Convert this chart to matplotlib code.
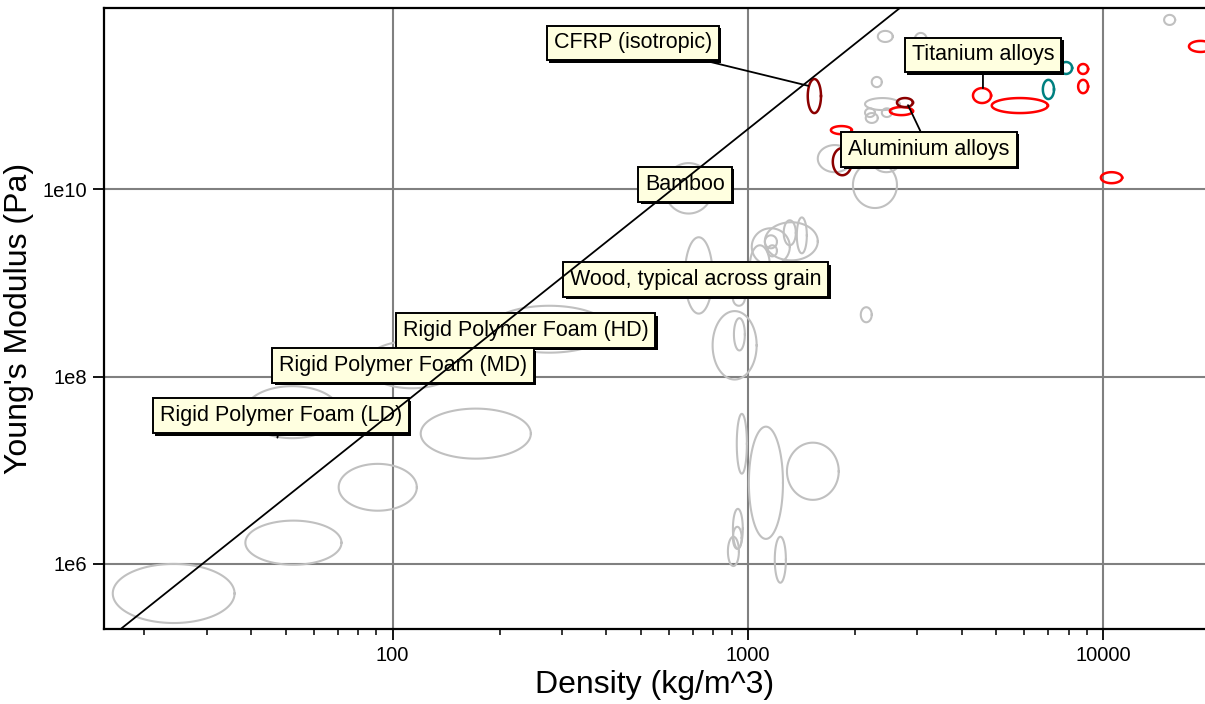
import numpy as np
import matplotlib
matplotlib.use('Agg')
import matplotlib.pyplot as plt
import matplotlib.patheffects as pe
from matplotlib.ticker import FixedLocator, FixedFormatter, LogLocator, NullFormatter, NullLocator

plt.rcParams['font.family'] = ['Liberation Sans', 'DejaVu Sans']

# material bubbles: density range (kg/m^3), Young's modulus range (Pa)
rho_lo = [16.3, 38.5, 70.5, 38.3, 120, 83.4, 187, 583, 665, 908, 796, 914, 2080,
          1117, 1026, 1374, 1262, 1117, 1137, 1014,
          931, 1007, 1289, 908, 908, 879, 1191,
          2323, 2951, 2233, 2138, 2138, 2148, 2384, 1574, 1977, 2249, 14860,
          1714, 2512, 4305, 4862, 8511, 8511, 9864, 17460,
          1475, 2630, 1735,
          7568, 6771]
rho_hi = [35.9, 71.8, 117, 71.0, 245, 154, 408, 796, 796, 981, 1059, 981, 2233,
          1574, 1313, 1466, 1365, 1208, 1208, 1153,
          994, 1256, 1803, 968, 961, 944, 1280,
          2559, 3190, 2384, 2680, 2280, 2323, 2544, 1963, 2630, 2680, 15960,
          1963, 2917, 4840, 6997, 9077, 9077, 11320, 20280,
          1607, 2917, 1963,
          8185, 7278]
E_lo = [2.34e5, 9.8e5, 3.7e6, 2.2e7, 1.33e7, 7.5e7, 1.8e8, 5.5e9, 4.7e8, 5.7e8, 9.3e7, 1.9e8, 3.8e8,
        1.74e9, 1.54e9, 2.07e9, 2.52e9, 2.34e9, 1.92e9, 9.4e8,
        9.2e6, 1.85e6, 4.83e6, 1.45e6, 1.45e6, 9.5e5, 6.3e5,
        3.73e11, 3.38e11, 1.23e11, 7.0e10, 5.9e10, 5.1e10, 5.9e10, 1.52e10, 6.3e9, 1.52e10, 5.67e11,
        3.87e10, 6.18e10, 8.32e10, 6.5e10, 1.70e11, 1.06e11, 1.16e10, 2.92e11,
        6.5e10, 7.53e10, 1.41e10,
        1.70e11, 9.18e10]
E_hi = [1.0e6, 2.9e6, 1.17e7, 7.9e7, 4.55e7, 2.4e8, 5.7e8, 1.9e10, 3.07e9, 8.3e8, 5.0e8, 4.2e8, 5.5e8,
        4.44e9, 3.83e9, 5.0e9, 4.66e9, 3.22e9, 2.52e9, 2.52e9,
        4.0e7, 2.92e7, 1.97e7, 3.87e6, 2.49e6, 1.95e6, 1.95e6,
        4.9e11, 4.66e11, 1.58e11, 9.4e10, 7.3e10, 6.5e10, 7.3e10, 2.96e10, 1.95e10, 2.61e10, 7.26e11,
        4.72e10, 7.53e10, 1.20e11, 9.4e10, 2.17e11, 1.47e11, 1.52e10, 3.83e11,
        1.50e11, 9.4e10, 2.75e10,
        2.28e11, 1.47e11]
group = ['other'] * 38 + ['metal'] * 8 + ['selected'] * 3 + ['teal'] * 2

# labelled materials: text and the point the leader goes to
label_text = ['CFRP (isotropic)', 'Titanium alloys', 'Aluminium alloys', 'Bamboo',
              'Wood, typical across grain', 'Rigid Polymer Foam (HD)',
              'Rigid Polymer Foam (MD)', 'Rigid Polymer Foam (LD)']
label_rho = [1480, 4592, 2825, 680, 720, 280, 110, 47.4]
label_E = [1.27e11, 1.2e11, 7.9e10, 1.0e10, 1.2e9, 3.2e8, 1.35e8, 2.23e7]
# where the label boxes sit
text_rho = [474, 4592, 3236, 665, 714, 237, 107, 48.4]
text_E = [3.64e11, 2.71e11, 2.68e10, 1.13e10, 1.09e9, 3.1e8, 1.31e8, 3.83e7]

# guideline, end points
guide_rho = [17.3, 2680]
guide_E = [2.07e5, 8.6e11]

colours = {'other': '#c0c0c0', 'metal': '#ff0000', 'selected': '#8b0000', 'teal': '#008080'}
widths = {'other': 1.5, 'metal': 1.8, 'selected': 1.8, 'teal': 1.8}

fig = plt.figure(figsize=(12.05, 7.04), dpi=100)
ax = fig.add_axes([104 / 1205, 75 / 704, 1 - 104 / 1205, 621 / 704])
ax.set_xscale('log')
ax.set_yscale('log')

t = np.linspace(0, 2 * np.pi, 120)
for i in range(len(rho_lo)):
    cx = (np.log10(rho_lo[i]) + np.log10(rho_hi[i])) / 2
    rx = (np.log10(rho_hi[i]) - np.log10(rho_lo[i])) / 2
    cy = (np.log10(E_lo[i]) + np.log10(E_hi[i])) / 2
    ry = (np.log10(E_hi[i]) - np.log10(E_lo[i])) / 2
    g = group[i]
    ax.plot(10 ** (cx + rx * np.cos(t)), 10 ** (cy + ry * np.sin(t)),
            color=colours[g], lw=widths[g], zorder=2)

for i in range(len(label_text)):
    ann = ax.annotate(label_text[i], xy=(label_rho[i], label_E[i]),
                      xytext=(text_rho[i], text_E[i]), textcoords='data',
                      ha='center', va='center', fontsize=15.5, zorder=3,
                      bbox=dict(boxstyle='square,pad=0.32', fc='#ffffe0', ec='black', lw=1.4),
                      arrowprops=dict(arrowstyle='-', color='black', lw=1.3,
                                      shrinkA=0, shrinkB=0))
    ann.get_bbox_patch().set_path_effects(
        [pe.SimplePatchShadow(offset=(1.8, -1.8), shadow_rgbFace='black', alpha=1.0), pe.Normal()])

ax.plot(guide_rho, guide_E, color='black', lw=1.3, zorder=4)

ax.set_xlim(15.4, 19370)
ax.set_ylim(2.02e5, 8.6e11)

ax.xaxis.set_major_locator(FixedLocator([100, 1000, 10000]))
ax.xaxis.set_major_formatter(FixedFormatter(['100', '1000', '10000']))
ax.xaxis.set_minor_locator(LogLocator(base=10, subs=np.arange(2, 10)))
ax.xaxis.set_minor_formatter(NullFormatter())
ax.yaxis.set_major_locator(FixedLocator([1e6, 1e8, 1e10]))
ax.yaxis.set_major_formatter(FixedFormatter(['1e6', '1e8', '1e10']))
ax.yaxis.set_minor_locator(NullLocator())

ax.tick_params(axis='both', which='major', length=8, width=1.3, labelsize=14.5, pad=4, direction='out')
ax.tick_params(axis='x', which='minor', length=4.5, width=1.1, direction='out')
ax.grid(True, which='major', color='#808080', lw=1.5, zorder=1)
ax.set_axisbelow(True)

for s in ['left', 'bottom', 'top']:
    ax.spines[s].set_linewidth(1.6)
    ax.spines[s].set_color('black')
ax.spines['right'].set_visible(False)

ax.set_xlabel('Density (kg/m^3)', fontsize=23, labelpad=4)
ax.set_ylabel("Young's Modulus (Pa)", fontsize=23, labelpad=6)

fig.savefig('out.png', dpi=100)
